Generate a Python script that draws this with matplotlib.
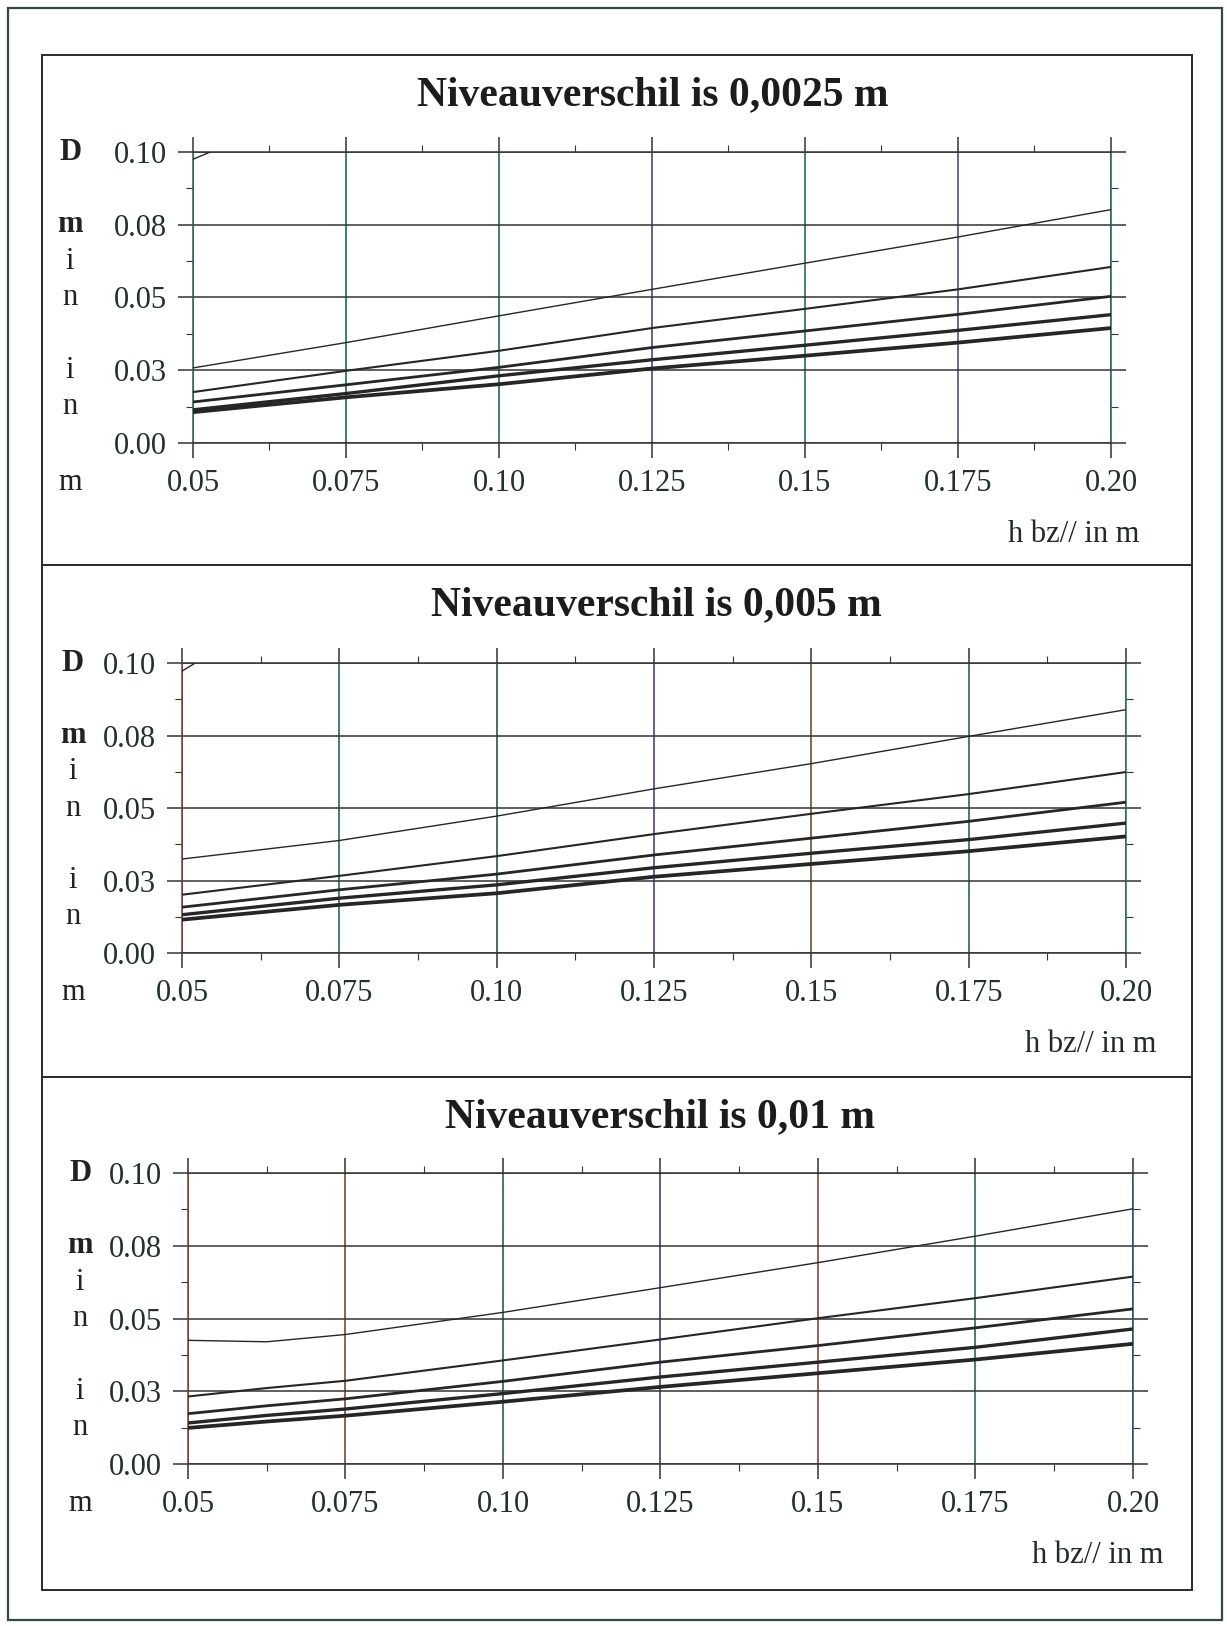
import matplotlib
matplotlib.use("Agg")
import matplotlib.pyplot as plt
from matplotlib.patches import Rectangle
from matplotlib.lines import Line2D
from matplotlib.transforms import blended_transform_factory

plt.rcParams['font.family'] = ['Liberation Serif', 'DejaVu Serif']

# ---------------- data ----------------
titles = ["Niveauverschil is 0,0025 m", "Niveauverschil is 0,005 m", "Niveauverschil is 0,01 m"]
xlabel = "h bz// in m"
ylabel_letters = ["D", "m", "i", "n", "i", "n", "m"]

x_ticks = [0.05, 0.075, 0.10, 0.125, 0.15, 0.175, 0.20]
x_tick_labels = ["0.05", "0.075", "0.10", "0.125", "0.15", "0.175", "0.20"]
y_ticks = [0.0, 0.025, 0.05, 0.075, 0.10]
y_tick_labels = ["0.00", "0.03", "0.05", "0.08", "0.10"]

# panel 1 (0,0025 m)
x_p1 = [0.05, 0.075, 0.10, 0.125, 0.15, 0.175, 0.20]
p1_l1 = [0.0258, 0.0345, 0.0437, 0.0528, 0.0618, 0.0708, 0.0802]
p1_l2 = [0.0175, 0.0248, 0.0317, 0.0395, 0.0461, 0.0528, 0.0605]
p1_l3 = [0.0141, 0.0200, 0.0260, 0.0328, 0.0385, 0.0442, 0.0504]
p1_l4 = [0.0114, 0.0170, 0.0231, 0.0286, 0.0336, 0.0387, 0.0441]
p1_l5 = [0.0106, 0.0157, 0.0202, 0.0256, 0.0300, 0.0345, 0.0395]
p1_x6 = [0.05, 0.0528]
p1_l6 = [0.0975, 0.1000]

# panel 2 (0,005 m)
x_p2 = [0.05, 0.075, 0.10, 0.125, 0.15, 0.175, 0.20]
p2_l1 = [0.0324, 0.0388, 0.0472, 0.0566, 0.0653, 0.0747, 0.0839]
p2_l2 = [0.0201, 0.0266, 0.0334, 0.0410, 0.0480, 0.0548, 0.0624]
p2_l3 = [0.0158, 0.0218, 0.0272, 0.0338, 0.0396, 0.0454, 0.0520]
p2_l4 = [0.0132, 0.0189, 0.0235, 0.0294, 0.0344, 0.0391, 0.0448]
p2_l5 = [0.0115, 0.0166, 0.0206, 0.0263, 0.0307, 0.0351, 0.0402]
p2_x6 = [0.05, 0.0521]
p2_l6 = [0.0972, 0.1000]

# panel 3 (0,01 m)
x_p3 = [0.05, 0.0625, 0.075, 0.10, 0.125, 0.15, 0.175, 0.20]
p3_l1 = [0.0425, 0.0420, 0.0445, 0.0521, 0.0606, 0.0692, 0.0783, 0.0877]
p3_l2 = [0.0232, 0.0261, 0.0286, 0.0356, 0.0428, 0.0501, 0.0570, 0.0644]
p3_l3 = [0.0173, 0.0200, 0.0224, 0.0284, 0.0350, 0.0407, 0.0468, 0.0533]
p3_l4 = [0.0141, 0.0167, 0.0189, 0.0242, 0.0299, 0.0350, 0.0401, 0.0464]
p3_l5 = [0.0124, 0.0146, 0.0166, 0.0214, 0.0265, 0.0312, 0.0359, 0.0413]

panels = [
    dict(x=x_p1, lines=[p1_l1, p1_l2, p1_l3, p1_l4, p1_l5], extra=(p1_x6, p1_l6)),
    dict(x=x_p2, lines=[p2_l1, p2_l2, p2_l3, p2_l4, p2_l5], extra=(p2_x6, p2_l6)),
    dict(x=x_p3, lines=[p3_l1, p3_l2, p3_l3, p3_l4, p3_l5], extra=None),
]

# ---------------- layout / style ----------------
W, H = 1227, 1626
fig = plt.figure(figsize=(W / 100, H / 100), dpi=100)
fig.patch.set_facecolor('white')

def fx(px):
    return px / W

def fy(py):
    return 1 - py / H

# axes boxes in pixel coords: left, right, top(0.10), bottom(0.00)
boxes = [(193, 1111, 152, 443), (182, 1126, 663, 953), (188, 1133, 1173, 1464)]
title_pos = [(653, 95), (656, 605), (660, 1117)]
ylab_x = [70, 73, 80]
xlab_pos = [(1139, 534), (1156, 1045), (1163, 1555)]
letter_y = [0.10, 0.075, 0.0625, 0.05, 0.025, 0.0125, -0.0135]
letter_w = ['bold', 'bold', 'normal', 'normal', 'normal', 'normal', 'normal']

vcolors = [
    ['#2c5f5a', '#1f6a58', '#2a6460', '#5b3f6e', '#2a6a5c', '#5a4a78', '#24605c'],
    ['#7a3a2e', '#2d6462', '#2f4f55', '#5b3f72', '#6a5030', '#2a645c', '#2a6a64'],
    ['#7a3a30', '#7a4a30', '#2f5a5a', '#3f4070', '#7a4a38', '#2a6a5c', '#2a4f66'],
]
hcolor = '#333333'
lcolor = '#262626'
tcolor = '#22302e'
lwidths = [1.0, 1.5, 2.0, 2.4, 2.7]

for i, p in enumerate(panels):
    l, r, t, b = boxes[i]
    ax = fig.add_axes([fx(l), fy(b), fx(r - l), (b - t) / H])
    ax.set_xlim(0.05, 0.20)
    ax.set_ylim(0.0, 0.10)
    for y, lw in zip(p['lines'], lwidths):
        ax.plot(p['x'], y, color=lcolor, lw=lw, solid_capstyle='butt', zorder=3)
    if p['extra'] is not None:
        ax.plot(p['extra'][0], p['extra'][1], color=lcolor, lw=1.0, zorder=3)

    ax.set_xticks(x_ticks)
    ax.set_xticklabels(x_tick_labels)
    ax.set_yticks(y_ticks)
    ax.set_yticklabels(y_tick_labels)
    ax.set_xticks([0.0625, 0.0875, 0.1125, 0.1375, 0.1625, 0.1875], minor=True)
    ax.set_yticks([0.0125, 0.0375, 0.0625, 0.0875], minor=True)
    ax.tick_params(which='major', direction='out', length=11, width=1.1, color=hcolor,
                   top=True, right=True, labelsize=22, labelcolor=tcolor, pad=8)
    ax.tick_params(which='minor', direction='out', length=5, width=0.8, color=hcolor,
                   top=True, right=True)
    ax.grid(True, which='major', color=hcolor, lw=1.1)
    for gl, c in zip(ax.get_xgridlines(), vcolors[i]):
        gl.set_color(c)
        gl.set_linewidth(1.2)
    for sp in ax.spines.values():
        sp.set_color(hcolor)
        sp.set_linewidth(1.1)
    ax.spines['left'].set_color(vcolors[i][0])
    ax.spines['right'].set_color(vcolors[i][-1])

    fig.text(fx(title_pos[i][0]), fy(title_pos[i][1]), titles[i], ha='center', va='center',
             fontsize=30, fontweight='bold', color='#1c1c1c')
    tr = blended_transform_factory(fig.transFigure, ax.transData)
    for ch, yy, w in zip(ylabel_letters, letter_y, letter_w):
        ax.text(fx(ylab_x[i]), yy, ch, transform=tr, ha='center', va='center',
                fontsize=22, fontweight=w, color='#222222', clip_on=False)
    fig.text(fx(xlab_pos[i][0]), fy(xlab_pos[i][1]), xlabel, ha='right', va='center',
             fontsize=22, color='#222a28')

# frames
fig.add_artist(Rectangle((fx(8), fy(1620)), fx(1222 - 8), (1620 - 8) / H, fill=False,
                         edgecolor='#2f4a44', lw=1.6, transform=fig.transFigure))
fig.add_artist(Rectangle((fx(42), fy(1590)), fx(1192 - 42), (1590 - 55) / H, fill=False,
                         edgecolor='#2a2a2a', lw=1.4, transform=fig.transFigure))
for yy in (565, 1077):
    fig.add_artist(Line2D([fx(42), fx(1192)], [fy(yy), fy(yy)], color='#2a2a2a', lw=1.4,
                          transform=fig.transFigure))

fig.savefig('out.png', dpi=100)
